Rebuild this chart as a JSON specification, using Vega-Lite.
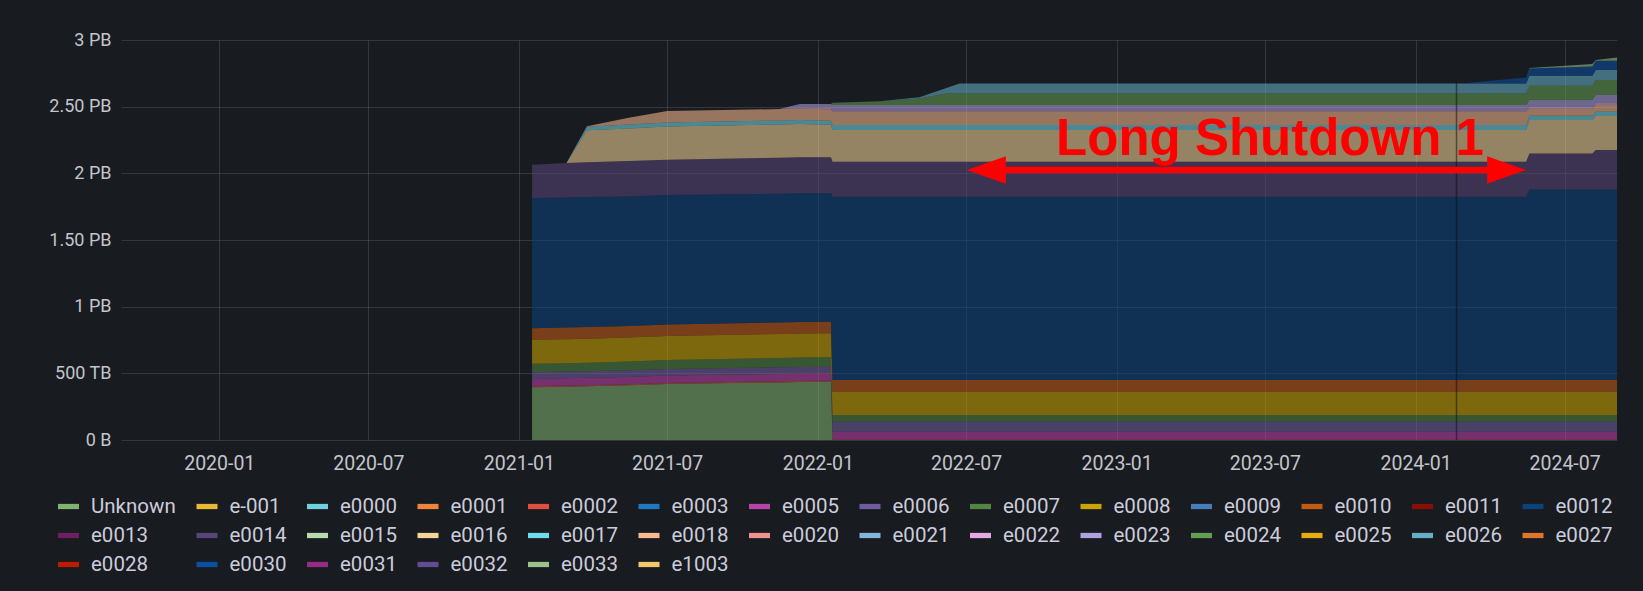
{
"$schema":"https://vega.github.io/schema/vega-lite/v6.json",
"autosize":"none","width":1496,"height":400,
"padding":{"left":121,"top":40,"right":26,"bottom":151},
"background":"#181B1F",
"config":{"view":{"stroke":null},
"legend":{"gridAlign":"none","symbolLimit":60},
"axis":{"domain":false,"ticks":false,"gridColor":"#CCCCDC","gridOpacity":0.16,"labelColor":"#C4C4CC","labelFont":"Roboto","labelFontSize":18,"title":null}},
"datasets":{"d":[
{"t":"2021-01-17","s":"Unknown","v":0.395},{"t":"2021-02-28","s":"Unknown","v":0.40},{"t":"2021-03-25","s":"Unknown","v":0.403},{"t":"2021-05-15","s":"Unknown","v":0.41},{"t":"2021-07-01","s":"Unknown","v":0.42},{"t":"2021-11-15","s":"Unknown","v":0.432},{"t":"2021-12-10","s":"Unknown","v":0.435},{"t":"2022-01-17","s":"Unknown","v":0.437},{"t":"2022-01-19","s":"Unknown","v":0},{"t":"2022-03-17","s":"Unknown","v":0},{"t":"2022-05-05","s":"Unknown","v":0},{"t":"2022-06-07","s":"Unknown","v":0},{"t":"2022-06-23","s":"Unknown","v":0},{"t":"2024-02-25","s":"Unknown","v":0},{"t":"2024-05-15","s":"Unknown","v":0},{"t":"2024-05-19","s":"Unknown","v":0},{"t":"2024-08-04","s":"Unknown","v":0},{"t":"2024-08-08","s":"Unknown","v":0},{"t":"2024-09-03","s":"Unknown","v":0},
{"t":"2021-01-17","s":"e0002","v":0.008},{"t":"2021-02-28","s":"e0002","v":0.008},{"t":"2021-03-25","s":"e0002","v":0.008},{"t":"2021-05-15","s":"e0002","v":0.008},{"t":"2021-07-01","s":"e0002","v":0.008},{"t":"2021-11-15","s":"e0002","v":0.008},{"t":"2021-12-10","s":"e0002","v":0.008},{"t":"2022-01-17","s":"e0002","v":0.008},{"t":"2022-01-19","s":"e0002","v":0.006},{"t":"2022-03-17","s":"e0002","v":0.006},{"t":"2022-05-05","s":"e0002","v":0.006},{"t":"2022-06-07","s":"e0002","v":0.006},{"t":"2022-06-23","s":"e0002","v":0.006},{"t":"2024-02-25","s":"e0002","v":0.006},{"t":"2024-05-15","s":"e0002","v":0.006},{"t":"2024-05-19","s":"e0002","v":0.006},{"t":"2024-08-04","s":"e0002","v":0.006},{"t":"2024-08-08","s":"e0002","v":0.006},{"t":"2024-09-03","s":"e0002","v":0.006},
{"t":"2021-01-17","s":"e0005","v":0.055},{"t":"2021-02-28","s":"e0005","v":0.055},{"t":"2021-03-25","s":"e0005","v":0.055},{"t":"2021-05-15","s":"e0005","v":0.055},{"t":"2021-07-01","s":"e0005","v":0.055},{"t":"2021-11-15","s":"e0005","v":0.055},{"t":"2021-12-10","s":"e0005","v":0.055},{"t":"2022-01-17","s":"e0005","v":0.055},{"t":"2022-01-19","s":"e0005","v":0.056},{"t":"2022-03-17","s":"e0005","v":0.056},{"t":"2022-05-05","s":"e0005","v":0.056},{"t":"2022-06-07","s":"e0005","v":0.056},{"t":"2022-06-23","s":"e0005","v":0.056},{"t":"2024-02-25","s":"e0005","v":0.056},{"t":"2024-05-15","s":"e0005","v":0.056},{"t":"2024-05-19","s":"e0005","v":0.056},{"t":"2024-08-04","s":"e0005","v":0.056},{"t":"2024-08-08","s":"e0005","v":0.056},{"t":"2024-09-03","s":"e0005","v":0.056},
{"t":"2021-01-17","s":"e0006","v":0.05},{"t":"2021-02-28","s":"e0006","v":0.05},{"t":"2021-03-25","s":"e0006","v":0.05},{"t":"2021-05-15","s":"e0006","v":0.05},{"t":"2021-07-01","s":"e0006","v":0.05},{"t":"2021-11-15","s":"e0006","v":0.05},{"t":"2021-12-10","s":"e0006","v":0.05},{"t":"2022-01-17","s":"e0006","v":0.05},{"t":"2022-01-19","s":"e0006","v":0.075},{"t":"2022-03-17","s":"e0006","v":0.075},{"t":"2022-05-05","s":"e0006","v":0.075},{"t":"2022-06-07","s":"e0006","v":0.075},{"t":"2022-06-23","s":"e0006","v":0.075},{"t":"2024-02-25","s":"e0006","v":0.075},{"t":"2024-05-15","s":"e0006","v":0.075},{"t":"2024-05-19","s":"e0006","v":0.075},{"t":"2024-08-04","s":"e0006","v":0.075},{"t":"2024-08-08","s":"e0006","v":0.075},{"t":"2024-09-03","s":"e0006","v":0.075},
{"t":"2021-01-17","s":"e0007","v":0.063},{"t":"2021-02-28","s":"e0007","v":0.063},{"t":"2021-03-25","s":"e0007","v":0.064},{"t":"2021-05-15","s":"e0007","v":0.065},{"t":"2021-07-01","s":"e0007","v":0.067},{"t":"2021-11-15","s":"e0007","v":0.07},{"t":"2021-12-10","s":"e0007","v":0.07},{"t":"2022-01-17","s":"e0007","v":0.07},{"t":"2022-01-19","s":"e0007","v":0.05},{"t":"2022-03-17","s":"e0007","v":0.05},{"t":"2022-05-05","s":"e0007","v":0.05},{"t":"2022-06-07","s":"e0007","v":0.05},{"t":"2022-06-23","s":"e0007","v":0.05},{"t":"2024-02-25","s":"e0007","v":0.05},{"t":"2024-05-15","s":"e0007","v":0.05},{"t":"2024-05-19","s":"e0007","v":0.05},{"t":"2024-08-04","s":"e0007","v":0.05},{"t":"2024-08-08","s":"e0007","v":0.05},{"t":"2024-09-03","s":"e0007","v":0.05},
{"t":"2021-01-17","s":"e0008","v":0.18},{"t":"2021-02-28","s":"e0008","v":0.18},{"t":"2021-03-25","s":"e0008","v":0.18},{"t":"2021-05-15","s":"e0008","v":0.18},{"t":"2021-07-01","s":"e0008","v":0.18},{"t":"2021-11-15","s":"e0008","v":0.18},{"t":"2021-12-10","s":"e0008","v":0.18},{"t":"2022-01-17","s":"e0008","v":0.18},{"t":"2022-01-19","s":"e0008","v":0.175},{"t":"2022-03-17","s":"e0008","v":0.175},{"t":"2022-05-05","s":"e0008","v":0.175},{"t":"2022-06-07","s":"e0008","v":0.175},{"t":"2022-06-23","s":"e0008","v":0.175},{"t":"2024-02-25","s":"e0008","v":0.175},{"t":"2024-05-15","s":"e0008","v":0.175},{"t":"2024-05-19","s":"e0008","v":0.175},{"t":"2024-08-04","s":"e0008","v":0.175},{"t":"2024-08-08","s":"e0008","v":0.175},{"t":"2024-09-03","s":"e0008","v":0.175},
{"t":"2021-01-17","s":"e0010","v":0.087},{"t":"2021-02-28","s":"e0010","v":0.087},{"t":"2021-03-25","s":"e0010","v":0.087},{"t":"2021-05-15","s":"e0010","v":0.087},{"t":"2021-07-01","s":"e0010","v":0.087},{"t":"2021-11-15","s":"e0010","v":0.087},{"t":"2021-12-10","s":"e0010","v":0.087},{"t":"2022-01-17","s":"e0010","v":0.087},{"t":"2022-01-19","s":"e0010","v":0.0875},{"t":"2022-03-17","s":"e0010","v":0.0875},{"t":"2022-05-05","s":"e0010","v":0.0875},{"t":"2022-06-07","s":"e0010","v":0.0875},{"t":"2022-06-23","s":"e0010","v":0.0875},{"t":"2024-02-25","s":"e0010","v":0.0875},{"t":"2024-05-15","s":"e0010","v":0.0875},{"t":"2024-05-19","s":"e0010","v":0.0875},{"t":"2024-08-04","s":"e0010","v":0.0875},{"t":"2024-08-08","s":"e0010","v":0.0875},{"t":"2024-09-03","s":"e0010","v":0.0875},
{"t":"2021-01-17","s":"e0012","v":0.977},{"t":"2021-02-28","s":"e0012","v":0.975},{"t":"2021-03-25","s":"e0012","v":0.975},{"t":"2021-05-15","s":"e0012","v":0.972},{"t":"2021-07-01","s":"e0012","v":0.97},{"t":"2021-11-15","s":"e0012","v":0.965},{"t":"2021-12-10","s":"e0012","v":0.965},{"t":"2022-01-17","s":"e0012","v":0.963},{"t":"2022-01-19","s":"e0012","v":1.375},{"t":"2022-03-17","s":"e0012","v":1.375},{"t":"2022-05-05","s":"e0012","v":1.375},{"t":"2022-06-07","s":"e0012","v":1.375},{"t":"2022-06-23","s":"e0012","v":1.375},{"t":"2024-02-25","s":"e0012","v":1.375},{"t":"2024-05-15","s":"e0012","v":1.375},{"t":"2024-05-19","s":"e0012","v":1.43},{"t":"2024-08-04","s":"e0012","v":1.43},{"t":"2024-08-08","s":"e0012","v":1.43},{"t":"2024-09-03","s":"e0012","v":1.43},
{"t":"2021-01-17","s":"e0014","v":0.25},{"t":"2021-02-28","s":"e0014","v":0.26},{"t":"2021-03-25","s":"e0014","v":0.262},{"t":"2021-05-15","s":"e0014","v":0.265},{"t":"2021-07-01","s":"e0014","v":0.265},{"t":"2021-11-15","s":"e0014","v":0.27},{"t":"2021-12-10","s":"e0014","v":0.27},{"t":"2022-01-17","s":"e0014","v":0.27},{"t":"2022-01-19","s":"e0014","v":0.2625},{"t":"2022-03-17","s":"e0014","v":0.2625},{"t":"2022-05-05","s":"e0014","v":0.2625},{"t":"2022-06-07","s":"e0014","v":0.2625},{"t":"2022-06-23","s":"e0014","v":0.2625},{"t":"2024-02-25","s":"e0014","v":0.2625},{"t":"2024-05-15","s":"e0014","v":0.2625},{"t":"2024-05-19","s":"e0014","v":0.27},{"t":"2024-08-04","s":"e0014","v":0.27},{"t":"2024-08-08","s":"e0014","v":0.295},{"t":"2024-09-03","s":"e0014","v":0.295},
{"t":"2021-01-17","s":"e0016","v":0},{"t":"2021-02-28","s":"e0016","v":0},{"t":"2021-03-25","s":"e0016","v":0.24},{"t":"2021-05-15","s":"e0016","v":0.245},{"t":"2021-07-01","s":"e0016","v":0.25},{"t":"2021-11-15","s":"e0016","v":0.25},{"t":"2021-12-10","s":"e0016","v":0.25},{"t":"2022-01-17","s":"e0016","v":0.245},{"t":"2022-01-19","s":"e0016","v":0.2375},{"t":"2022-03-17","s":"e0016","v":0.2375},{"t":"2022-05-05","s":"e0016","v":0.2375},{"t":"2022-06-07","s":"e0016","v":0.2375},{"t":"2022-06-23","s":"e0016","v":0.2375},{"t":"2024-02-25","s":"e0016","v":0.2375},{"t":"2024-05-15","s":"e0016","v":0.2375},{"t":"2024-05-19","s":"e0016","v":0.25},{"t":"2024-08-04","s":"e0016","v":0.25},{"t":"2024-08-08","s":"e0016","v":0.255},{"t":"2024-09-03","s":"e0016","v":0.255},
{"t":"2021-01-17","s":"e0017","v":0},{"t":"2021-02-28","s":"e0017","v":0},{"t":"2021-03-25","s":"e0017","v":0.025},{"t":"2021-05-15","s":"e0017","v":0.03},{"t":"2021-07-01","s":"e0017","v":0.03},{"t":"2021-11-15","s":"e0017","v":0.03},{"t":"2021-12-10","s":"e0017","v":0.03},{"t":"2022-01-17","s":"e0017","v":0.03},{"t":"2022-01-19","s":"e0017","v":0.0375},{"t":"2022-03-17","s":"e0017","v":0.0375},{"t":"2022-05-05","s":"e0017","v":0.0375},{"t":"2022-06-07","s":"e0017","v":0.0375},{"t":"2022-06-23","s":"e0017","v":0.0375},{"t":"2024-02-25","s":"e0017","v":0.0375},{"t":"2024-05-15","s":"e0017","v":0.0375},{"t":"2024-05-19","s":"e0017","v":0.0325},{"t":"2024-08-04","s":"e0017","v":0.0325},{"t":"2024-08-08","s":"e0017","v":0.0325},{"t":"2024-09-03","s":"e0017","v":0.0325},
{"t":"2021-01-17","s":"e0018","v":0},{"t":"2021-02-28","s":"e0018","v":0},{"t":"2021-03-25","s":"e0018","v":0.005},{"t":"2021-05-15","s":"e0018","v":0.05},{"t":"2021-07-01","s":"e0018","v":0.085},{"t":"2021-11-15","s":"e0018","v":0.085},{"t":"2021-12-10","s":"e0018","v":0.085},{"t":"2022-01-17","s":"e0018","v":0.085},{"t":"2022-01-19","s":"e0018","v":0.1},{"t":"2022-03-17","s":"e0018","v":0.1},{"t":"2022-05-05","s":"e0018","v":0.1},{"t":"2022-06-07","s":"e0018","v":0.1},{"t":"2022-06-23","s":"e0018","v":0.1},{"t":"2024-02-25","s":"e0018","v":0.1},{"t":"2024-05-15","s":"e0018","v":0.1},{"t":"2024-05-19","s":"e0018","v":0.05},{"t":"2024-08-04","s":"e0018","v":0.05},{"t":"2024-08-08","s":"e0018","v":0.05},{"t":"2024-09-03","s":"e0018","v":0.05},
{"t":"2021-01-17","s":"e0022","v":0},{"t":"2021-02-28","s":"e0022","v":0},{"t":"2021-03-25","s":"e0022","v":0},{"t":"2021-05-15","s":"e0022","v":0},{"t":"2021-07-01","s":"e0022","v":0},{"t":"2021-11-15","s":"e0022","v":0},{"t":"2021-12-10","s":"e0022","v":0.01},{"t":"2022-01-17","s":"e0022","v":0.01},{"t":"2022-01-19","s":"e0022","v":0.012},{"t":"2022-03-17","s":"e0022","v":0.012},{"t":"2022-05-05","s":"e0022","v":0.012},{"t":"2022-06-07","s":"e0022","v":0.012},{"t":"2022-06-23","s":"e0022","v":0.012},{"t":"2024-02-25","s":"e0022","v":0.012},{"t":"2024-05-15","s":"e0022","v":0.012},{"t":"2024-05-19","s":"e0022","v":0.015},{"t":"2024-08-04","s":"e0022","v":0.015},{"t":"2024-08-08","s":"e0022","v":0.015},{"t":"2024-09-03","s":"e0022","v":0.015},
{"t":"2021-01-17","s":"e0023","v":0},{"t":"2021-02-28","s":"e0023","v":0},{"t":"2021-03-25","s":"e0023","v":0},{"t":"2021-05-15","s":"e0023","v":0},{"t":"2021-07-01","s":"e0023","v":0},{"t":"2021-11-15","s":"e0023","v":0},{"t":"2021-12-10","s":"e0023","v":0.025},{"t":"2022-01-17","s":"e0023","v":0.03},{"t":"2022-01-19","s":"e0023","v":0.038},{"t":"2022-03-17","s":"e0023","v":0.038},{"t":"2022-05-05","s":"e0023","v":0.038},{"t":"2022-06-07","s":"e0023","v":0.038},{"t":"2022-06-23","s":"e0023","v":0.038},{"t":"2024-02-25","s":"e0023","v":0.038},{"t":"2024-05-15","s":"e0023","v":0.038},{"t":"2024-05-19","s":"e0023","v":0.055},{"t":"2024-08-04","s":"e0023","v":0.055},{"t":"2024-08-08","s":"e0023","v":0.06},{"t":"2024-09-03","s":"e0023","v":0.06},
{"t":"2021-01-17","s":"e0024","v":0},{"t":"2021-02-28","s":"e0024","v":0},{"t":"2021-03-25","s":"e0024","v":0},{"t":"2021-05-15","s":"e0024","v":0},{"t":"2021-07-01","s":"e0024","v":0},{"t":"2021-11-15","s":"e0024","v":0},{"t":"2021-12-10","s":"e0024","v":0},{"t":"2022-01-17","s":"e0024","v":0},{"t":"2022-01-19","s":"e0024","v":0.018},{"t":"2022-03-17","s":"e0024","v":0.028},{"t":"2022-05-05","s":"e0024","v":0.05},{"t":"2022-06-07","s":"e0024","v":0.0875},{"t":"2022-06-23","s":"e0024","v":0.0875},{"t":"2024-02-25","s":"e0024","v":0.0875},{"t":"2024-05-15","s":"e0024","v":0.0875},{"t":"2024-05-19","s":"e0024","v":0.105},{"t":"2024-08-04","s":"e0024","v":0.105},{"t":"2024-08-08","s":"e0024","v":0.1125},{"t":"2024-09-03","s":"e0024","v":0.1125},
{"t":"2021-01-17","s":"e0026","v":0},{"t":"2021-02-28","s":"e0026","v":0},{"t":"2021-03-25","s":"e0026","v":0},{"t":"2021-05-15","s":"e0026","v":0},{"t":"2021-07-01","s":"e0026","v":0},{"t":"2021-11-15","s":"e0026","v":0},{"t":"2021-12-10","s":"e0026","v":0},{"t":"2022-01-17","s":"e0026","v":0},{"t":"2022-01-19","s":"e0026","v":0},{"t":"2022-03-17","s":"e0026","v":0},{"t":"2022-05-05","s":"e0026","v":0.008},{"t":"2022-06-07","s":"e0026","v":0.04},{"t":"2022-06-23","s":"e0026","v":0.075},{"t":"2024-02-25","s":"e0026","v":0.075},{"t":"2024-05-15","s":"e0026","v":0.075},{"t":"2024-05-19","s":"e0026","v":0.075},{"t":"2024-08-04","s":"e0026","v":0.075},{"t":"2024-08-08","s":"e0026","v":0.075},{"t":"2024-09-03","s":"e0026","v":0.075},
{"t":"2021-01-17","s":"e0030","v":0},{"t":"2021-02-28","s":"e0030","v":0},{"t":"2021-03-25","s":"e0030","v":0},{"t":"2021-05-15","s":"e0030","v":0},{"t":"2021-07-01","s":"e0030","v":0},{"t":"2021-11-15","s":"e0030","v":0},{"t":"2021-12-10","s":"e0030","v":0},{"t":"2022-01-17","s":"e0030","v":0},{"t":"2022-01-19","s":"e0030","v":0},{"t":"2022-03-17","s":"e0030","v":0},{"t":"2022-05-05","s":"e0030","v":0},{"t":"2022-06-07","s":"e0030","v":0},{"t":"2022-06-23","s":"e0030","v":0},{"t":"2024-02-25","s":"e0030","v":0},{"t":"2024-05-15","s":"e0030","v":0.045},{"t":"2024-05-19","s":"e0030","v":0.055},{"t":"2024-08-04","s":"e0030","v":0.07},{"t":"2024-08-08","s":"e0030","v":0.07},{"t":"2024-09-03","s":"e0030","v":0.07},
{"t":"2021-01-17","s":"e0033","v":0},{"t":"2021-02-28","s":"e0033","v":0},{"t":"2021-03-25","s":"e0033","v":0},{"t":"2021-05-15","s":"e0033","v":0},{"t":"2021-07-01","s":"e0033","v":0},{"t":"2021-11-15","s":"e0033","v":0},{"t":"2021-12-10","s":"e0033","v":0},{"t":"2022-01-17","s":"e0033","v":0},{"t":"2022-01-19","s":"e0033","v":0},{"t":"2022-03-17","s":"e0033","v":0},{"t":"2022-05-05","s":"e0033","v":0},{"t":"2022-06-07","s":"e0033","v":0},{"t":"2022-06-23","s":"e0033","v":0},{"t":"2024-02-25","s":"e0033","v":0},{"t":"2024-05-15","s":"e0033","v":0},{"t":"2024-05-19","s":"e0033","v":0.003},{"t":"2024-08-04","s":"e0033","v":0.018},{"t":"2024-08-08","s":"e0033","v":0.005},{"t":"2024-09-03","s":"e0033","v":0.025}
]},
"layer":[
{"data":{"name":"d"},
"mark":{"type":"area","interpolate":"linear","fillOpacity":0.57,"strokeWidth":0},
"encoding":{
"x":{"field":"t","type":"temporal","scale":{"type":"utc","domain":[{"year":2019,"month":9,"date":3,"utc":true},{"year":2024,"month":9,"date":3,"utc":true}]},
"axis":{"format":"%Y-%m","labelPadding":14,"labelFontSize":19.5,"labelFlush":false,"values":[{"year":2020,"month":1,"date":1,"utc":true},{"year":2020,"month":7,"date":1,"utc":true},{"year":2021,"month":1,"date":1,"utc":true},{"year":2021,"month":7,"date":1,"utc":true},{"year":2022,"month":1,"date":1,"utc":true},{"year":2022,"month":7,"date":1,"utc":true},{"year":2023,"month":1,"date":1,"utc":true},{"year":2023,"month":7,"date":1,"utc":true},{"year":2024,"month":1,"date":1,"utc":true},{"year":2024,"month":7,"date":1,"utc":true}]}},
"y":{"field":"v","type":"quantitative","stack":"zero","scale":{"domain":[0,3],"nice":false},
"axis":{"values":[0,0.5,1,1.5,2,2.5,3],"labelPadding":10,"labelExpr":"datum.value==0?'0 B':datum.value==0.5?'500 TB':(datum.value%1==0?datum.value+' PB':format(datum.value,'.2f')+' PB')"}},
"order":{"field":"s","sort":"ascending"},
"color":{"field":"s","type":"nominal",
"scale":{"domain":["Unknown","e-001","e0000","e0001","e0002","e0003","e0005","e0006","e0007","e0008","e0009","e0010","e0011","e0012","e0013","e0014","e0015","e0016","e0017","e0018","e0020","e0021","e0022","e0023","e0024","e0025","e0026","e0027","e0028","e0030","e0031","e0032","e0033","e1003"],
"range":["#7EB26D","#EAB839","#6ED0E0","#EF843C","#E24D42","#1F78C1","#BA43A9","#705DA0","#508642","#CCA300","#447EBC","#C15C17","#890F02","#0A437C","#6D1F62","#584477","#B7DBAB","#F4D598","#70DBED","#F9BA8F","#F29191","#82B5D8","#E5A8E2","#AEA2E0","#629E51","#E5AC0E","#64B0C8","#E0752D","#BF1B00","#0A50A1","#962D82","#614D93","#9AC48A","#F2C96D"]},
"legend":{"orient":"none","legendX":-63,"legendY":456,"direction":"horizontal","columns":14,"gridAlign":"none","symbolLimit":60,"title":null,
"symbolType":"M-1,-0.25H1V0.25H-1Z","symbolSize":441,"symbolStrokeWidth":0,"symbolOpacity":1,
"labelFont":"Roboto","labelFontSize":20.5,"labelColor":"#CCCCDC","labelOffset":12,"columnPadding":20.5,"rowPadding":8,
"encode":{"symbols":{"update":{"fillOpacity":{"value":1},"opacity":{"value":1}}}}}}
}},
{"data":{"values":[{"t":"2024-02-20"}]},
"mark":{"type":"rule","color":"#0b0c0f","strokeWidth":1.5,"opacity":0.5},
"encoding":{"x":{"field":"t","type":"temporal"},"y":{"datum":0},"y2":{"datum":2.68}}},
{"data":{"values":[{"t":"2022-07-25","t2":"2024-04-20","v":2.025}]},
"mark":{"type":"rule","color":"#FF0000","strokeWidth":6.5},
"encoding":{"x":{"field":"t","type":"temporal"},"x2":{"field":"t2"},"y":{"field":"v","type":"quantitative"}}},
{"data":{"values":[{"t":"2022-07-02","v":2.025}]},
"mark":{"type":"point","filled":true,"opacity":1,"size":1521,"color":"#FF0000","strokeWidth":0,"shape":"M0,0L2,-0.7L2,0.7Z"},
"encoding":{"x":{"field":"t","type":"temporal"},"y":{"field":"v","type":"quantitative"}}},
{"data":{"values":[{"t":"2024-05-15","v":2.025}]},
"mark":{"type":"point","filled":true,"opacity":1,"size":1521,"color":"#FF0000","strokeWidth":0,"shape":"M0,0L-2,-0.7L-2,0.7Z"},
"encoding":{"x":{"field":"t","type":"temporal"},"y":{"field":"v","type":"quantitative"}}},
{"data":{"values":[{"t":"2022-10-19","v":2.1375,"label":"Long Shutdown 1"}]},
"mark":{"type":"text","align":"left","baseline":"alphabetic","font":"Liberation Sans","fontWeight":"bold","fontSize":51,"color":"#FF0000"},
"encoding":{"x":{"field":"t","type":"temporal"},"y":{"field":"v","type":"quantitative"},"text":{"field":"label"}}}
]
}
